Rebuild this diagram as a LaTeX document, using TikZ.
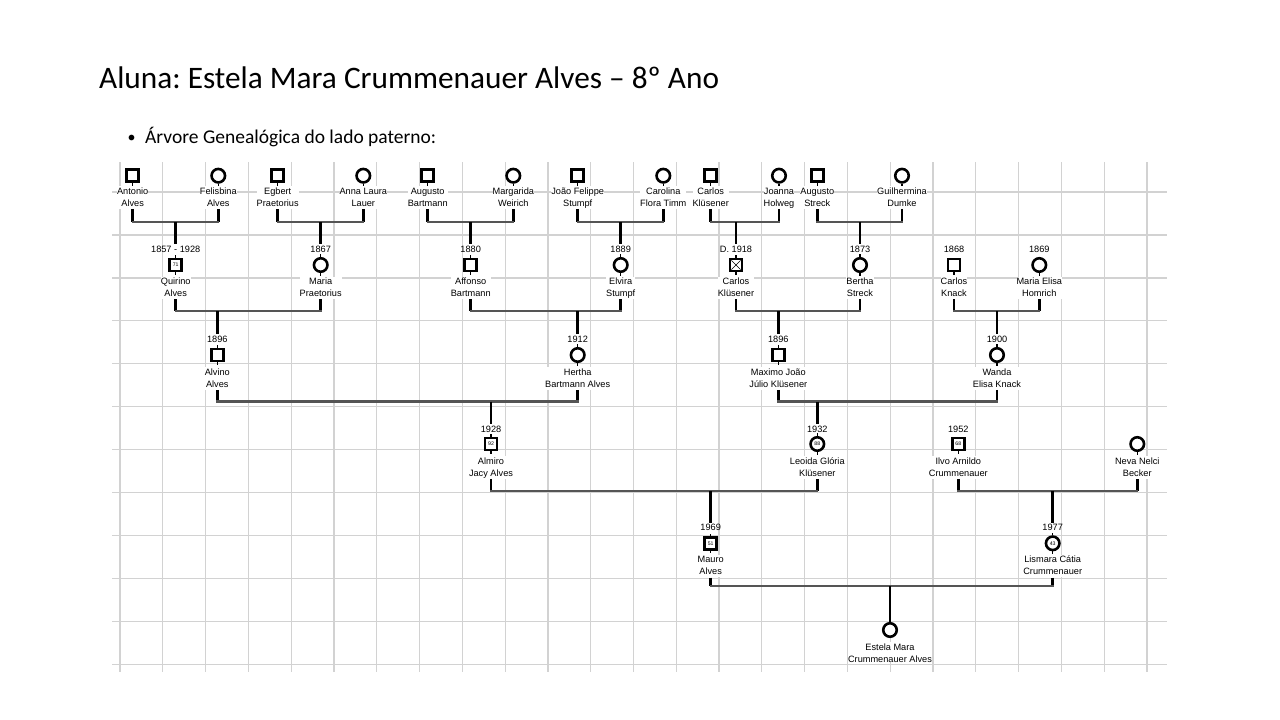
\documentclass[tikz,border=0pt]{standalone}
\usepackage{fontspec}
\setmainfont{Carlito}
\newfontfamily\arialf{Liberation Sans}
\definecolor{gridgray}{RGB}{210,210,210}
\definecolor{couplegray}{RGB}{85,85,85}
\tikzset{
  gridline/.style={draw=gridgray, line width=1.2pt},
  malesym/.style={draw, rectangle, line width=2.6pt, minimum size=12pt, inner sep=0pt, fill=white},
  femsym/.style={draw, circle, line width=2.6pt, minimum size=13.5pt, inner sep=0pt, fill=white},
  namelbl/.style={font=\arialf\fontsize{9.2}{12}\selectfont, align=center, inner sep=0pt, anchor=north, fill=white},
  yearlbl/.style={font=\arialf\fontsize{9.2}{12}\selectfont, inner sep=1.5pt},
  agelbl/.style={font=\arialf\fontsize{5.2}{6}\selectfont, inner sep=0pt},
  dropline/.style={line width=2.5pt, draw=black},
  coupleline/.style={line width=2.2pt, draw=couplegray, line cap=rect},
  stub/.style={line width=1.4pt, draw=black},
}
% #1 id, #2 style, #3 x, #4 y, #5 name-top y, #6 first line, #7 second line
\newcommand\famnode[7]{%
  \node[#2] (#1) at (#3,#4) {};
  \draw[stub] (#1.south) -- ++(0,2.5);
  \node[namelbl] (#1-l) at (#3,#5) {\rule{0pt}{8pt}#6\\#7\rule[-2.5pt]{0pt}{2.5pt}};
}
% #1 id, #2 year y, #3 year text
\newcommand\famyear[3]{%
  \node[yearlbl] (#1-y) at (#1 |- 0,#2) {#3};
  \draw[stub] (#1.north) -- ++(0,-2.5);
}
% #1 left, #2 right, #3 child, #4 couple y, #5 target
\newcommand\famcouple[5]{%
  \coordinate (#3-u) at (#3 |- 0,#4);
  \draw[dropline] (#1-l.south) -- (#1 |- #3-u);
  \draw[dropline] (#2-l.south) -- (#2 |- #3-u);
  \draw[coupleline] (#1 |- #3-u) -- (#2 |- #3-u);
  \draw[dropline] (#3-u) -- (#5);
}
\frenchspacing
\begin{document}
\begin{tikzpicture}[x=1pt,y=-1pt]
\useasboundingbox (0,0) rectangle (1280,720);
\fill[white] (0,0) rectangle (1280,720);
% title
\node[anchor=base west, inner sep=0pt, font=\fontsize{31.3}{31.3}\selectfont] (title) at (99,88) {Aluna: Estela Mara Crummenauer Alves – 8º Ano};
\node[anchor=base west, inner sep=0pt, font=\fontsize{16}{16}\selectfont] (bullet) at (127.5,142) {•};
\node[anchor=base west, inner sep=0pt, font=\fontsize{19.5}{19.5}\selectfont] (subtitle) at (145,143) {Árvore Genealógica do lado paterno:};
% grid
\foreach \i in {0,...,24} \draw[gridline] ({120+42.79*\i},162) -- ({120+42.79*\i},672);
\foreach \j in {0,...,11} \draw[gridline] (112,{192+42.95*\j}) -- (1167,{192+42.95*\j});
% generation 1
\famnode{antonio}{malesym}{132.7}{175.7}{186}{Antonio}{Alves}
\famnode{felisbina}{femsym}{218.3}{175.7}{186}{Felisbina}{Alves}
\famnode{egbert}{malesym}{277.7}{175.7}{186}{Egbert}{Praetorius}
\famnode{annalaura}{femsym}{363.3}{175.7}{186}{Anna Laura}{Lauer}
\famnode{augustob}{malesym}{427.7}{175.7}{186}{Augusto}{Bartmann}
\famnode{margarida}{femsym}{513.3}{175.7}{186}{Margarida}{Weirich}
\famnode{joao}{malesym}{577.7}{175.7}{186}{João Felippe}{Stumpf}
\famnode{carolina}{femsym}{663.3}{175.7}{186}{Carolina}{Flora Timm}
\famnode{carlosa}{malesym}{710.7}{175.7}{186}{Carlos}{Klüsener}
\famnode{joanna}{femsym}{779}{175.7}{186}{Joanna}{Holweg}
\famnode{augustos}{malesym}{817.3}{175.7}{186}{Augusto}{Streck}
\famnode{guilhermina}{femsym}{902}{175.7}{186}{Guilhermina}{Dumke}
% generation 2
\famnode{quirino}{malesym}{175.7}{265}{276.3}{Quirino}{Alves}
\famnode{maria}{femsym}{320.7}{265}{276.3}{Maria}{Praetorius}
\famnode{affonso}{malesym}{470.7}{265}{276.3}{Affonso}{Bartmann}
\famnode{elvira}{femsym}{620.7}{265}{276.3}{Elvira}{Stumpf}
\famnode{carlosb}{malesym}{736}{265}{276.3}{Carlos}{Klüsener}
\famnode{bertha}{femsym}{860}{265}{276.3}{Bertha}{Streck}
\famnode{knack}{malesym}{954}{265}{276.3}{Carlos}{Knack}
\famnode{mariaelisa}{femsym}{1039.3}{265}{276.3}{Maria Elisa}{Homrich}
\famyear{quirino}{249.3}{1857 - 1928}
\famyear{maria}{249.3}{1867}
\famyear{affonso}{249.3}{1880}
\famyear{elvira}{249.3}{1889}
\famyear{carlosb}{249.3}{D. 1918}
\famyear{bertha}{249.3}{1873}
\node[yearlbl] (knack-y) at (954,249.3) {1868};
\node[yearlbl] (mariaelisa-y) at (1039.3,249.3) {1869};
\node[agelbl] at (quirino) {71};
\draw[line width=0.5pt] ([shift={(-4.6,-4.6)}]carlosb.center) -- ([shift={(4.6,4.6)}]carlosb.center);
\draw[line width=0.5pt] ([shift={(-4.6,4.6)}]carlosb.center) -- ([shift={(4.6,-4.6)}]carlosb.center);
% generation 3
\famnode{alvino}{malesym}{217.3}{355}{367}{Alvino}{Alves}
\famnode{hertha}{femsym}{577.7}{355}{367}{Hertha}{Bartmann Alves}
\famnode{maximo}{malesym}{778.3}{355}{367}{Maximo João}{Júlio Klüsener}
\famnode{wanda}{femsym}{997}{355}{367}{Wanda}{Elisa Knack}
\famyear{alvino}{339.3}{1896}
\famyear{hertha}{339.3}{1912}
\famyear{maximo}{339.3}{1896}
\famyear{wanda}{339.3}{1900}
% generation 4
\famnode{almiro}{malesym}{491}{444}{456}{Almiro}{Jacy Alves}
\famnode{leoida}{femsym}{817.3}{444}{456}{Leoida Glória}{Klüsener}
\famnode{ilvo}{malesym}{958.3}{444}{456}{Ilvo Arnildo}{Crummenauer}
\famnode{neva}{femsym}{1137.3}{444}{456}{Neva Nelci}{Becker}
\famyear{almiro}{429}{1928}
\famyear{leoida}{429}{1932}
\node[yearlbl] (ilvo-y) at (958.3,429) {1952};
\node[agelbl] at (almiro) {92};
\node[agelbl] at (leoida) {88};
\node[agelbl] at (ilvo) {68};
% generation 5
\famnode{mauro}{malesym}{710.7}{543.3}{554.6}{Mauro}{Alves}
\famnode{lismara}{femsym}{1052.7}{543.3}{554.6}{Lismara Cátia}{Crummenauer}
\famyear{mauro}{527.7}{1969}
\famyear{lismara}{527.7}{1977}
\node[agelbl] at (mauro) {51};
\node[agelbl] at (lismara) {43};
% generation 6
\node[femsym] (estela) at (890,630) {};
\node[namelbl] (estela-l) at (890,642) {\rule{0pt}{8pt}Estela Mara\\Crummenauer Alves};
% couples
\famcouple{antonio}{felisbina}{quirino}{222}{quirino-y.north}
\famcouple{egbert}{annalaura}{maria}{222}{maria-y.north}
\famcouple{augustob}{margarida}{affonso}{222}{affonso-y.north}
\famcouple{joao}{carolina}{elvira}{222}{elvira-y.north}
\famcouple{carlosa}{joanna}{carlosb}{222}{carlosb-y.north}
\famcouple{augustos}{guilhermina}{bertha}{222}{bertha-y.north}
\famcouple{quirino}{maria}{alvino}{311}{alvino-y.north}
\famcouple{affonso}{elvira}{hertha}{311}{hertha-y.north}
\famcouple{carlosb}{bertha}{maximo}{311}{maximo-y.north}
\famcouple{knack}{mariaelisa}{wanda}{311}{wanda-y.north}
\famcouple{alvino}{hertha}{almiro}{401.5}{almiro-y.north}
\famcouple{maximo}{wanda}{leoida}{401.5}{leoida-y.north}
\famcouple{almiro}{leoida}{mauro}{491}{mauro-y.north}
\famcouple{ilvo}{neva}{lismara}{491}{lismara-y.north}
\famcouple{mauro}{lismara}{estela}{585.7}{estela.north}
\end{tikzpicture}
\end{document}
